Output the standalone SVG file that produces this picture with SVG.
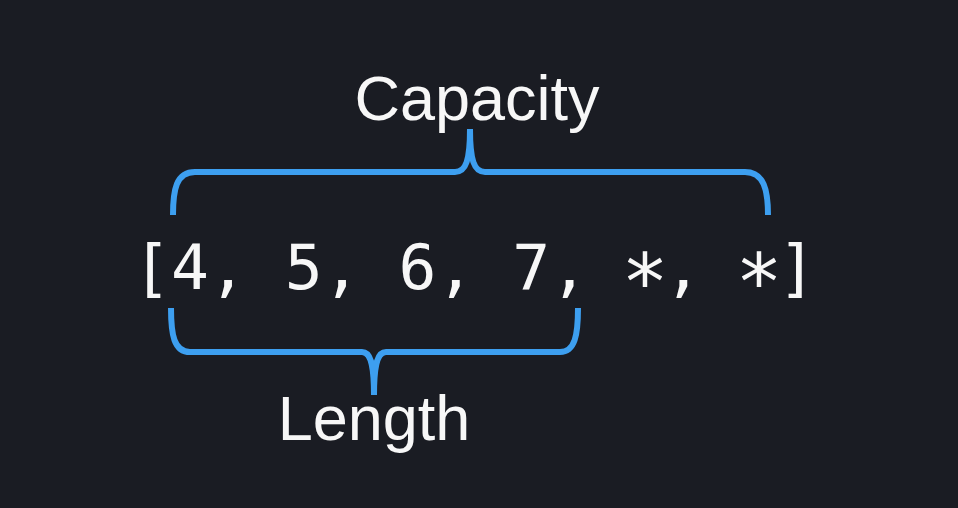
<svg xmlns="http://www.w3.org/2000/svg" width="958" height="508" viewBox="0 0 958 508">
<style>
.brace{fill:none;stroke:#3d9ff0;stroke-width:6;stroke-linecap:butt;stroke-linejoin:round}
.label{font-family:"Liberation Sans",Arial,sans-serif;font-size:63px;fill:#f7f7f7;text-anchor:middle}
.code{font-family:"DejaVu Sans Mono","Liberation Mono",monospace;font-size:63px;fill:#f7f7f7}
.star{font-size:78px}
</style>
<rect x="0" y="0" width="958" height="508" fill="#1a1c23"/>
<g id="connectors">
<path class="brace" d="M173,215 C173,190 176,172 195,172 L455,172 C466,172 470,160 470,129 M470,129 C470,160 474,172 485,172 L745,172 C764,172 768,190 768,215"/>
<path class="brace" d="M171,308 C171,335 174,352 190,352 L362,352 C370,352 374,362 374,395 M374,395 C374,362 378,352 386,352 L560,352 C575,352 578,335 578,308"/>
</g>
<g id="capacity"><text class="label" x="477" y="120">Capacity</text></g>
<g id="array"><text class="code" x="133" y="289" xml:space="preserve">[4, 5, 6, 7, <tspan class="star" x="621.5" y="309">*</tspan><tspan x="664" y="289">, </tspan><tspan class="star" x="735.5" y="309">*</tspan><tspan x="778" y="289">]</tspan></text></g>
<g id="length"><text class="label" x="374" y="440">Length</text></g>
</svg>
